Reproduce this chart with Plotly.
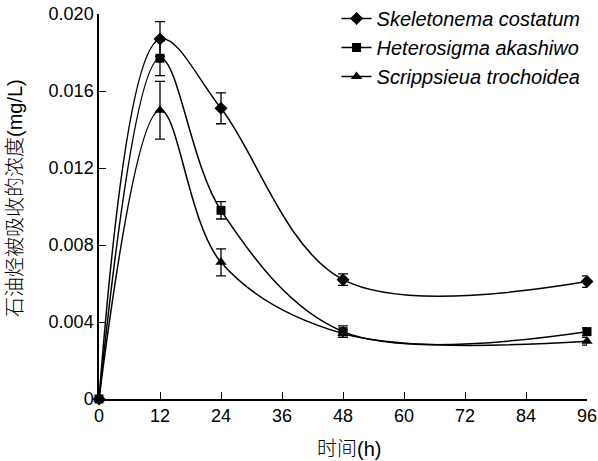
import plotly.graph_objects as go

hours = [0, 12, 24, 48, 96]
skeletonema = [0.0, 0.0187, 0.0151, 0.0062, 0.0061]
skeletonema_err = [0.0, 0.0009, 0.0008, 0.0003, 0.0003]
heterosigma = [0.0, 0.0177, 0.0098, 0.0035, 0.0035]
heterosigma_err = [0.0, 0.0009, 0.00045, 0.0003, 0.0002]
scrippsieua = [0.0, 0.0150, 0.0071, 0.0034, 0.0030]
scrippsieua_err = [0.0, 0.0015, 0.0007, 0.0002, 0.0002]

names = ["Skeletonema costatum", "Heterosigma akashiwo", "Scrippsieua trochoidea"]
symbols = ["diamond", "square", "triangle-up"]
msizes = [10, 9, 10]

x_ticks = [0, 12, 24, 36, 48, 60, 72, 84, 96]
y_ticks = [0, 0.004, 0.008, 0.012, 0.016, 0.020]
y_ticktext = ["0", "0.004", "0.008", "0.012", "0.016", "0.020"]
x_title = "时间(h)"
y_title = "石油烃被吸收的浓度(mg/L)"

FONT = "Liberation Sans, Arial, Noto Sans CJK SC, sans-serif"

fig = go.Figure()
for name, ys, errs, sym, ms in zip(names, [skeletonema, heterosigma, scrippsieua],
                                   [skeletonema_err, heterosigma_err, scrippsieua_err],
                                   symbols, msizes):
    fig.add_trace(go.Scatter(
        x=hours, y=ys, name="<i>" + name + "</i>", mode="lines+markers",
        line=dict(color="black", width=1.5, shape="spline", smoothing=1.0),
        marker=dict(symbol=sym, size=ms, color="black"),
        error_y=dict(type="data", array=errs, visible=True, color="black",
                     thickness=1.3, width=5),
        cliponaxis=False,
    ))

fig.update_layout(
    width=598, height=461,
    margin=dict(l=99, r=11, t=14, b=62, autoexpand=False),
    paper_bgcolor="white", plot_bgcolor="white",
    font=dict(family=FONT, size=18, color="black"),
    showlegend=True,
    legend=dict(x=0.997, y=1.039, xanchor="right", yanchor="top",
                bgcolor="rgba(0,0,0,0)", borderwidth=0,
                font=dict(family=FONT, size=20, color="black"),
                tracegroupgap=0, itemwidth=30),
    xaxis=dict(range=[0, 96], tickvals=x_ticks, ticks="inside", ticklen=7,
               tickwidth=1.3, tickcolor="black", showline=True, linecolor="black",
               linewidth=1.5, showgrid=False, zeroline=False,
               tickfont=dict(size=18)),
    yaxis=dict(range=[0, 0.020], tickvals=y_ticks, ticktext=y_ticktext,
               ticks="inside", ticklen=7, tickwidth=1.3, tickcolor="black",
               showline=True, linecolor="black", linewidth=1.5, showgrid=False,
               zeroline=False,
               tickfont=dict(size=18)),
    annotations=[
        dict(text=x_title, xref="paper", yref="paper",
             x=(348.5 - 99) / 488, y=-(449 - 399) / 385,
             xanchor="center", yanchor="middle", showarrow=False,
             font=dict(family=FONT, size=20, color="black", weight=300)),
        dict(text=y_title, xref="paper", yref="paper",
             x=(15 - 99) / 488, y=(399 - 198) / 385, textangle=-90,
             xanchor="center", yanchor="middle", showarrow=False,
             font=dict(family=FONT, size=20, color="black", weight=300)),
    ],
)

fig.write_html("out.html")
